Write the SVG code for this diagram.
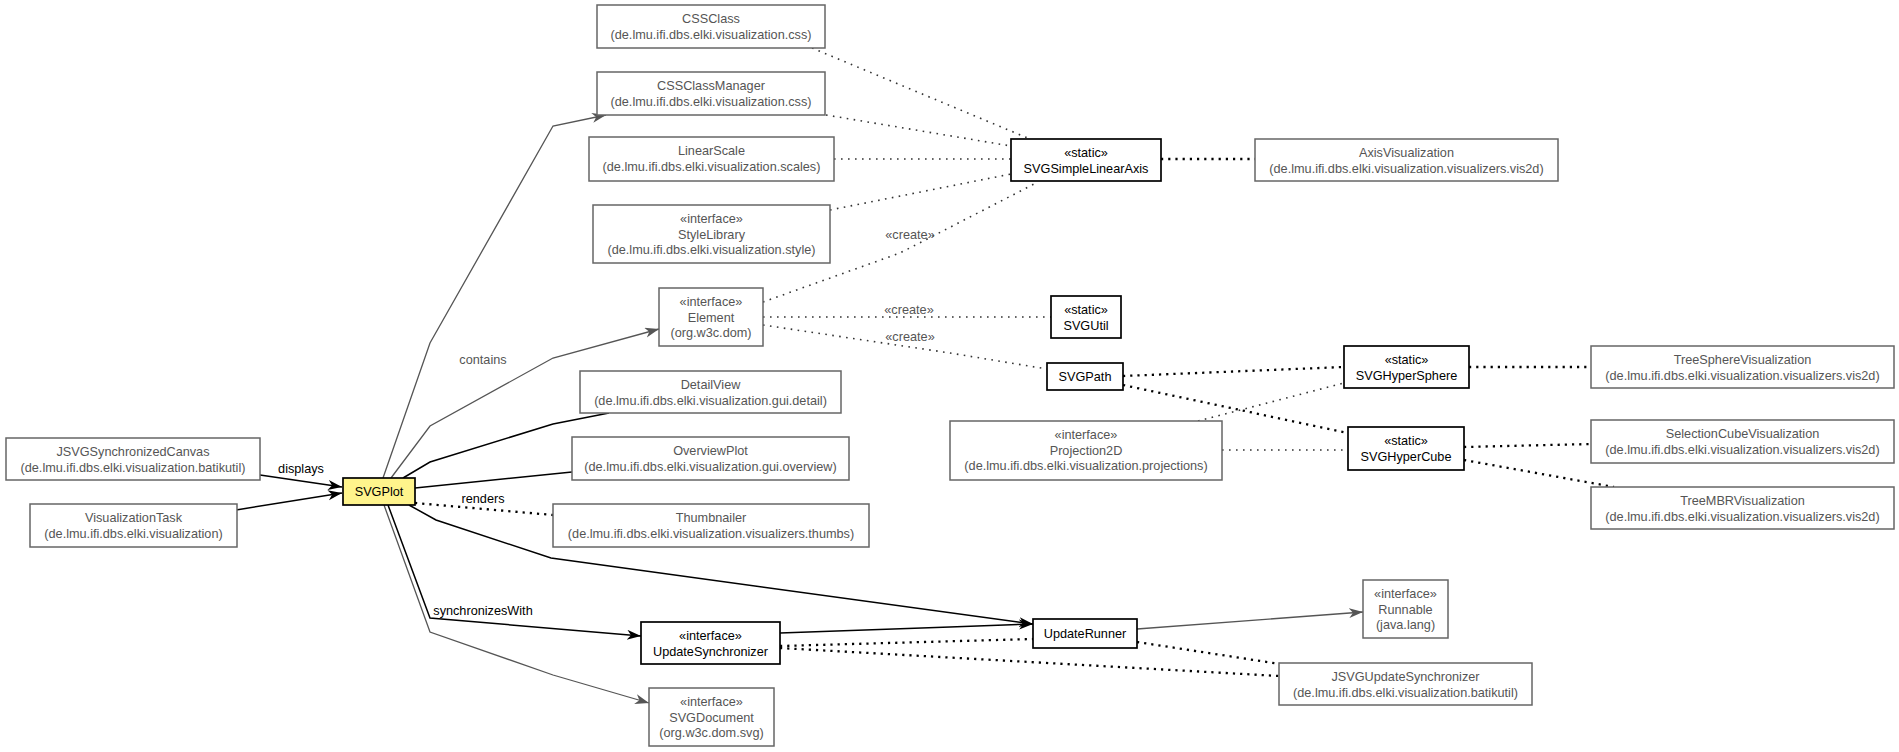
<svg xmlns="http://www.w3.org/2000/svg" width="1899" height="752" viewBox="0 0 1899 752">
<style>
text{font-family:"Liberation Sans",Arial,sans-serif;font-size:12.7px;text-anchor:middle}
.g rect{fill:#fff;stroke:#666;stroke-width:1.5}
.g text{fill:#555}
.b rect{fill:#fff;stroke:#000;stroke-width:1.7}
.b text{fill:#000}
.y rect{fill:#fff48c;stroke:#000;stroke-width:1.7}
.y text{fill:#000}
.sb{fill:none;stroke:#000;stroke-width:1.5}
.sg{fill:none;stroke:#555;stroke-width:1.3}
.d{fill:none;stroke:#333;stroke-width:1.6;stroke-dasharray:1.6 5.4}
.db{fill:none;stroke:#000;stroke-width:2.3;stroke-dasharray:2.2 5}
.lbl{fill:#000}
.lblg{fill:#555}
</style>
<defs>
<marker id="ab" markerWidth="16" markerHeight="12" refX="14" refY="5" orient="auto" markerUnits="userSpaceOnUse"><path d="M0,0 L14,5 L0,10 L4,5 Z" fill="#000"/></marker>
<marker id="ag" markerWidth="16" markerHeight="12" refX="14" refY="5" orient="auto" markerUnits="userSpaceOnUse"><path d="M0,0 L14,5 L0,10 L4,5 Z" fill="#555"/></marker>
</defs>
<g id="connectors">
<polyline class="sg" points="383,478 430,343 553,126 606,115" marker-end="url(#ag)"/>
<polyline class="sg" points="391,478 430,426 553,358 659,329" marker-end="url(#ag)"/>
<polyline class="sb" points="403,478 430,462 553,424 609,413"/>
<polyline class="sb" points="415,488 572,472"/>
<polyline class="db" points="415,503 553,515"/>
<polyline class="sb" points="409,505 436,520 551,558 1033,624" marker-end="url(#ab)"/>
<polyline class="sb" points="388,505 430,618 641,636" marker-end="url(#ab)"/>
<polyline class="sg" points="384,505 430,632 553,675 649,703" marker-end="url(#ag)"/>
<polyline class="sb" points="260,475 342,487" marker-end="url(#ab)"/>
<polyline class="sb" points="236,510 342,493" marker-end="url(#ab)"/>
<polyline class="d" points="812,48 1030,139"/>
<polyline class="d" points="826,115 1011,146"/>
<polyline class="d" points="834,159 1011,159"/>
<polyline class="d" points="830,210 1011,174"/>
<polyline class="d" points="763,302 900,253 1038,182"/>
<polyline class="d" points="763,317 1051,317"/>
<polyline class="d" points="763,325 950,353 1047,369"/>
<polyline class="db" points="1161,159 1255,159"/>
<polyline class="db" points="1123,376 1344,367"/>
<polyline class="db" points="1123,385 1348,433"/>
<polyline class="d" points="1198,421 1344,383"/>
<polyline class="d" points="1222,450 1348,450"/>
<polyline class="db" points="1469,367 1591,367"/>
<polyline class="db" points="1464,447 1591,444"/>
<polyline class="db" points="1464,460 1614,487"/>
<polyline class="sb" points="780,633 950,627 1033,624" marker-end="url(#ab)"/>
<polyline class="db" points="780,646 1033,639"/>
<polyline class="db" points="780,648 1279,676"/>
<polyline class="sg" points="1137,629 1363,612" marker-end="url(#ag)"/>
<polyline class="db" points="1137,642 1280,664"/>
<text class="lblg" x="483" y="364">contains</text>
<text class="lbl" x="483" y="503">renders</text>
<text class="lbl" x="301" y="473">displays</text>
<text class="lbl" x="483" y="615">synchronizesWith</text>
<text class="lblg" x="910" y="239">«create»</text>
<text class="lblg" x="909" y="314">«create»</text>
<text class="lblg" x="910" y="341">«create»</text>
</g>
<g id="CSSClass" class="g"><rect x="597" y="5" width="228" height="43"/><text x="711" y="23">CSSClass</text><text x="711" y="39">(de.lmu.ifi.dbs.elki.visualization.css)</text></g>
<g id="CSSClassManager" class="g"><rect x="597" y="72" width="228" height="43"/><text x="711" y="90">CSSClassManager</text><text x="711" y="106">(de.lmu.ifi.dbs.elki.visualization.css)</text></g>
<g id="LinearScale" class="g"><rect x="589" y="137" width="245" height="44"/><text x="711.5" y="155">LinearScale</text><text x="711.5" y="171">(de.lmu.ifi.dbs.elki.visualization.scales)</text></g>
<g id="StyleLibrary" class="g"><rect x="593" y="205" width="237" height="58"/><text x="711.5" y="223">«interface»</text><text x="711.5" y="238.5">StyleLibrary</text><text x="711.5" y="254">(de.lmu.ifi.dbs.elki.visualization.style)</text></g>
<g id="SVGSimpleLinearAxis" class="b"><rect x="1011" y="139" width="150" height="42"/><text x="1086" y="157">«static»</text><text x="1086" y="173">SVGSimpleLinearAxis</text></g>
<g id="AxisVisualization" class="g"><rect x="1255" y="139" width="303" height="42"/><text x="1406.5" y="157">AxisVisualization</text><text x="1406.5" y="173">(de.lmu.ifi.dbs.elki.visualization.visualizers.vis2d)</text></g>
<g id="Element" class="g"><rect x="659" y="288" width="104" height="58"/><text x="711" y="306">«interface»</text><text x="711" y="321.5">Element</text><text x="711" y="337">(org.w3c.dom)</text></g>
<g id="SVGUtil" class="b"><rect x="1051" y="296" width="70" height="42"/><text x="1086" y="314">«static»</text><text x="1086" y="330">SVGUtil</text></g>
<g id="SVGPath" class="b"><rect x="1047" y="363" width="76" height="27"/><text x="1085" y="381">SVGPath</text></g>
<g id="SVGHyperSphere" class="b"><rect x="1344" y="346" width="125" height="42"/><text x="1406.5" y="364">«static»</text><text x="1406.5" y="380">SVGHyperSphere</text></g>
<g id="TreeSphereVisualization" class="g"><rect x="1591" y="346" width="303" height="42"/><text x="1742.5" y="364">TreeSphereVisualization</text><text x="1742.5" y="380">(de.lmu.ifi.dbs.elki.visualization.visualizers.vis2d)</text></g>
<g id="DetailView" class="g"><rect x="580" y="371" width="261" height="42"/><text x="710.5" y="389">DetailView</text><text x="710.5" y="405">(de.lmu.ifi.dbs.elki.visualization.gui.detail)</text></g>
<g id="JSVGSynchronizedCanvas" class="g"><rect x="6" y="438" width="254" height="42"/><text x="133" y="456">JSVGSynchronizedCanvas</text><text x="133" y="472">(de.lmu.ifi.dbs.elki.visualization.batikutil)</text></g>
<g id="OverviewPlot" class="g"><rect x="572" y="437" width="277" height="43"/><text x="710.5" y="455">OverviewPlot</text><text x="710.5" y="471">(de.lmu.ifi.dbs.elki.visualization.gui.overview)</text></g>
<g id="Projection2D" class="g"><rect x="950" y="421" width="272" height="59"/><text x="1086" y="439">«interface»</text><text x="1086" y="454.5">Projection2D</text><text x="1086" y="470">(de.lmu.ifi.dbs.elki.visualization.projections)</text></g>
<g id="SVGHyperCube" class="b"><rect x="1348" y="427" width="116" height="43"/><text x="1406" y="445">«static»</text><text x="1406" y="461">SVGHyperCube</text></g>
<g id="SelectionCubeVisualization" class="g"><rect x="1591" y="420" width="303" height="43"/><text x="1742.5" y="438">SelectionCubeVisualization</text><text x="1742.5" y="454">(de.lmu.ifi.dbs.elki.visualization.visualizers.vis2d)</text></g>
<g id="SVGPlot" class="y"><rect x="343" y="478" width="72" height="27"/><text x="379" y="496">SVGPlot</text></g>
<g id="VisualizationTask" class="g"><rect x="30" y="504" width="207" height="43"/><text x="133.5" y="522">VisualizationTask</text><text x="133.5" y="538">(de.lmu.ifi.dbs.elki.visualization)</text></g>
<g id="Thumbnailer" class="g"><rect x="553" y="504" width="316" height="43"/><text x="711" y="522">Thumbnailer</text><text x="711" y="538">(de.lmu.ifi.dbs.elki.visualization.visualizers.thumbs)</text></g>
<g id="TreeMBRVisualization" class="g"><rect x="1591" y="487" width="303" height="42"/><text x="1742.5" y="505">TreeMBRVisualization</text><text x="1742.5" y="521">(de.lmu.ifi.dbs.elki.visualization.visualizers.vis2d)</text></g>
<g id="Runnable" class="g"><rect x="1363" y="580" width="85" height="58"/><text x="1405.5" y="598">«interface»</text><text x="1405.5" y="613.5">Runnable</text><text x="1405.5" y="629">(java.lang)</text></g>
<g id="UpdateRunner" class="b"><rect x="1033" y="619" width="104" height="29"/><text x="1085" y="638">UpdateRunner</text></g>
<g id="UpdateSynchronizer" class="b"><rect x="641" y="622" width="139" height="42"/><text x="710.5" y="640">«interface»</text><text x="710.5" y="656">UpdateSynchronizer</text></g>
<g id="JSVGUpdateSynchronizer" class="g"><rect x="1279" y="663" width="253" height="42"/><text x="1405.5" y="681">JSVGUpdateSynchronizer</text><text x="1405.5" y="697">(de.lmu.ifi.dbs.elki.visualization.batikutil)</text></g>
<g id="SVGDocument" class="g"><rect x="649" y="688" width="125" height="58"/><text x="711.5" y="706">«interface»</text><text x="711.5" y="721.5">SVGDocument</text><text x="711.5" y="737">(org.w3c.dom.svg)</text></g>
</svg>
